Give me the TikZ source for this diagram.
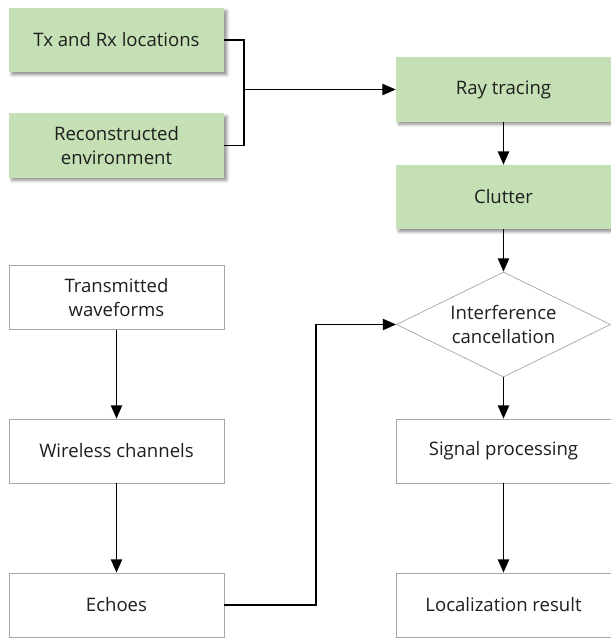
\documentclass[tikz,border=0pt]{standalone}
\usepackage{fontspec}
\setmainfont{Open Sans}
\usetikzlibrary{arrows.meta,shapes.geometric,shadows.blur}
\definecolor{boxgreen}{RGB}{197,224,180}
\definecolor{boxline}{RGB}{166,166,166}
\definecolor{txt}{RGB}{30,30,30}
\tikzset{
  base/.style={minimum width=5.375cm, minimum height=1.6cm, inner sep=2pt,
    align=center, text=txt, font=\fontsize{13.2}{17}\selectfont},
  greenbox/.style={base, fill=boxgreen,
    blur shadow={shadow xshift=2pt, shadow yshift=-2pt, shadow opacity=45, shadow blur steps=6}},
  plainbox/.style={base, draw=boxline, line width=0.5pt, fill=white},
  decision/.style={diamond, draw=boxline, line width=0.5pt, fill=white, inner sep=0pt,
    minimum width=5.35cm, minimum height=2.625cm},
  inside/.style={align=center, text=txt, font=\fontsize{13.2}{17}\selectfont},
  link/.style={line width=1.2pt},
  arrow/.style={link, -{Triangle[width=8pt,length=9.5pt]}}
}
\begin{document}
\begin{tikzpicture}[x=0.025cm, y=-0.025cm]
  \useasboundingbox (0,0) rectangle (611,638);
  % inputs of the ray tracer
  \node[greenbox] (txrx) at (116.5,40) {Tx and Rx locations};
  \node[greenbox] (env) at (116.5,145.5) {Reconstructed\\environment};
  \node[greenbox] (ray) at (503.5,89.5) {Ray tracing};
  \node[greenbox] (clutter) at (503.5,197) {Clutter};
  % signal chain
  \node[plainbox] (wave) at (116.5,297.5) {Transmitted\\waveforms};
  \node[plainbox] (chan) at (116.5,451) {Wireless channels};
  \node[plainbox] (echo) at (116.5,605) {Echoes};
  \node[decision, label={[inside]center:Interference\\cancellation}] (cancel) at (503.5,324.5) {};
  \node[plainbox] (proc) at (503.5,451) {Signal processing};
  \node[plainbox] (result) at (503.5,605) {Localization result};
  % connectors
  \coordinate (join) at (244,89.5);
  \coordinate (turn) at (316,605);
  \draw[link] (txrx.east) -| (join);
  \draw[link] (env.east) -| (join);
  \draw[arrow] (join) -- (ray.west);
  \draw[arrow] (ray) -- (clutter);
  \draw[arrow] (clutter) -- (cancel);
  \draw[arrow] (cancel) -- (proc);
  \draw[arrow] (proc) -- (result);
  \draw[arrow] (wave) -- (chan);
  \draw[arrow] (chan) -- (echo);
  \draw[arrow] (echo.east) -- (turn) |- (cancel.west);
\end{tikzpicture}
\end{document}
